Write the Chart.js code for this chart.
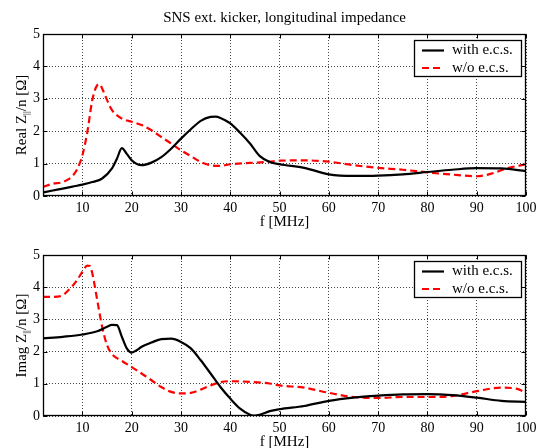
<!DOCTYPE html>
<html><head><meta charset="utf-8">
<script src="https://cdn.jsdelivr.net/npm/chart.js@4"></script>
<style>
html,body{margin:0;padding:0;background:#fff;overflow:hidden;width:542px;height:448px}
canvas{position:absolute;left:0}
#c1{top:0}
#c2{top:232px}
</style></head><body>
<canvas id="c1" width="542" height="232"></canvas>
<canvas id="c2" width="542" height="216"></canvas>
<script>
// ---------- data ----------
const chartTitle = 'SNS ext. kicker, longitudinal impedance';
const seriesLabels = ['with e.c.s.', 'w/o e.c.s.'];
const xAxisLabel = 'f [MHz]';
const yLabelTop = ['Real Z', '||', '/n [\u03A9]'];
const yLabelBottom = ['Imag Z', '||', '/n [\u03A9]'];
const xTickValues = [10, 20, 30, 40, 50, 60, 70, 80, 90, 100];
const yTickValues = [0, 1, 2, 3, 4, 5];

// Real part, with e.c.s.
const realWithF = [2, 4, 6, 8, 10, 12, 14, 16, 17, 18, 19, 20, 22, 24, 26, 28, 30, 32, 34, 36, 37, 38, 40, 42, 44, 46, 48, 50, 55, 60, 65, 70, 75, 80, 85, 90, 95, 100];
const realWithV = [0.11, 0.17, 0.23, 0.29, 0.35, 0.43, 0.54, 0.85, 1.15, 1.48, 1.3, 1.1, 0.95, 1.03, 1.2, 1.46, 1.77, 2.06, 2.32, 2.44, 2.45, 2.41, 2.24, 1.95, 1.62, 1.23, 1.05, 0.98, 0.87, 0.67, 0.62, 0.63, 0.67, 0.74, 0.81, 0.86, 0.85, 0.77];
// Real part, without e.c.s.
const realWoF = [2, 4, 6, 8, 9, 10, 11, 12, 13, 13.5, 14, 15, 16, 18, 20, 22, 24, 26, 28, 30, 32, 34, 36, 38, 40, 44, 48, 50, 55, 60, 65, 70, 75, 80, 85, 90, 93, 96, 100];
const realWoV = [0.28, 0.38, 0.43, 0.62, 0.85, 1.26, 1.98, 2.96, 3.42, 3.45, 3.32, 2.96, 2.65, 2.39, 2.29, 2.19, 2.03, 1.82, 1.62, 1.41, 1.23, 1.05, 0.95, 0.93, 0.98, 1.02, 1.06, 1.09, 1.1, 1.06, 0.95, 0.87, 0.81, 0.73, 0.66, 0.61, 0.69, 0.85, 0.98];
// Imaginary part, with e.c.s.
const imagWithF = [2, 6, 10, 13, 15, 16, 17, 18, 19, 20, 21, 22, 24, 26, 28, 30, 32, 34, 36, 38, 40, 42, 44, 45, 46, 48, 50, 55, 60, 65, 70, 75, 80, 85, 90, 95, 100];
const imagWithV = [2.41, 2.46, 2.53, 2.63, 2.77, 2.83, 2.82, 2.46, 2.1, 1.97, 2.04, 2.15, 2.28, 2.39, 2.4, 2.3, 2.1, 1.73, 1.32, 0.9, 0.54, 0.23, 0.04, 0.01, 0.04, 0.15, 0.21, 0.31, 0.47, 0.57, 0.63, 0.67, 0.68, 0.65, 0.57, 0.47, 0.44];
// Imaginary part, without e.c.s.
const imagWoF = [2, 4, 6, 7, 8, 9, 10, 11, 11.5, 12, 13, 14, 15, 16, 18, 20, 22, 24, 26, 28, 30, 32, 34, 36, 38, 40, 44, 48, 50, 55, 60, 65, 70, 75, 80, 85, 90, 95, 98, 100];
const imagWoV = [3.7, 3.7, 3.75, 3.88, 4.04, 4.24, 4.48, 4.67, 4.66, 4.43, 3.6, 2.77, 2.2, 1.92, 1.71, 1.52, 1.32, 1.11, 0.9, 0.75, 0.7, 0.72, 0.82, 0.95, 1.05, 1.08, 1.06, 1.01, 0.95, 0.88, 0.72, 0.59, 0.56, 0.59, 0.59, 0.62, 0.77, 0.88, 0.85, 0.73];

// ---------- helpers ----------
const SERIF = '"Liberation Serif", "DejaVu Serif", serif';
const pts = (f, v) => f.map((x, i) => ({x, y: v[i]}));

const framePlugin = {
  id: 'frame',
  afterDraw(chart) {
    const {ctx, chartArea: a, scales: {x, y}} = chart;
    const L = Math.round(a.left) + 0.5, R = Math.round(a.right) - 0.5;
    const T = Math.round(a.top) + 0.5, B = Math.round(a.bottom) - 0.5;
    ctx.save();
    ctx.strokeStyle = '#000';
    ctx.lineWidth = 1;
    ctx.beginPath();
    const tl = 4;
    x.ticks.forEach(t => {
      const px = Math.round(x.getPixelForValue(t.value)) + 0.5;
      ctx.moveTo(px, B); ctx.lineTo(px, B - tl);
      ctx.moveTo(px, T); ctx.lineTo(px, T + tl);
    });
    y.ticks.forEach(t => {
      const py = Math.round(y.getPixelForValue(t.value)) + 0.5;
      ctx.moveTo(L, py); ctx.lineTo(L + tl, py);
      ctx.moveTo(R, py); ctx.lineTo(R - tl, py);
    });
    ctx.stroke();
    ctx.lineWidth = 1.3;
    ctx.strokeRect(L, T, R - L, B - T);
    ctx.restore();
  }
};

const labelsPlugin = {
  id: 'labels',
  afterDraw(chart, args, opts) {
    const {ctx, chartArea: a} = chart;
    ctx.save();
    ctx.fillStyle = '#000';
    const cx = (a.left + a.right) / 2;
    if (opts.title) {
      ctx.font = '15px ' + SERIF;
      ctx.textAlign = 'center';
      ctx.textBaseline = 'middle';
      ctx.fillText(opts.title, cx, a.top - 16);
    }
    // x label
    ctx.font = '15px ' + SERIF;
    ctx.textAlign = 'center';
    ctx.textBaseline = 'top';
    ctx.fillText(opts.xLabel, cx, a.bottom + 19);
    // y label with subscript
    const parts = opts.yLabel;
    const big = '15px ' + SERIF, small = '9px ' + SERIF;
    ctx.font = big; const w0 = ctx.measureText(parts[0]).width;
    ctx.font = small; const w1 = ctx.measureText(parts[1]).width;
    ctx.font = big; const w2 = ctx.measureText(parts[2]).width;
    const total = w0 + w1 + w2;
    ctx.translate(22, (a.top + a.bottom) / 2);
    ctx.rotate(-Math.PI / 2);
    ctx.textAlign = 'left';
    ctx.textBaseline = 'middle';
    let sx = -total / 2;
    ctx.font = big; ctx.fillText(parts[0], sx, 0); sx += w0;
    ctx.font = small; ctx.fillText(parts[1], sx, 5); sx += w1;
    ctx.font = big; ctx.fillText(parts[2], sx, 0);
    ctx.restore();
  }
};

const legendPlugin = {
  id: 'boxLegend',
  afterDraw(chart) {
    const {ctx, chartArea: a} = chart;
    const ds = chart.data.datasets;
    const bw = 107, bh = 36;
    const bx = Math.round(a.right) - 5 - bw, by = Math.round(a.top) + 6;
    ctx.save();
    ctx.fillStyle = '#fff';
    ctx.fillRect(bx, by, bw, bh);
    ctx.strokeStyle = '#000';
    ctx.lineWidth = 1.3;
    ctx.strokeRect(bx + 0.5, by + 0.5, bw, bh);
    ctx.font = '15px ' + SERIF;
    ctx.textBaseline = 'middle';
    ctx.textAlign = 'left';
    ds.forEach((d, i) => {
      const yy = by + 10.5 + i * 17.5;
      ctx.strokeStyle = d.borderColor;
      ctx.lineWidth = d.borderWidth;
      ctx.setLineDash(d.borderDash || []);
      ctx.beginPath();
      ctx.moveTo(bx + 8, yy); ctx.lineTo(bx + 30, yy);
      ctx.stroke();
      ctx.setLineDash([]);
      ctx.fillStyle = '#000';
      ctx.fillText(d.label, bx + 38, yy);
    });
    ctx.restore();
  }
};

function makeChart(id, withPts, woPts, yLabel, title, padTop, xHeight) {
  return new Chart(document.getElementById(id), {
    type: 'line',
    data: {
      datasets: [
        {label: seriesLabels[0], data: withPts, borderColor: '#000', borderWidth: 2.2,
         pointRadius: 0, cubicInterpolationMode: 'monotone', fill: false},
        {label: seriesLabels[1], data: woPts, borderColor: '#ff0000', borderWidth: 2.2,
         borderDash: [7, 4], pointRadius: 0, cubicInterpolationMode: 'monotone', fill: false}
      ]
    },
    options: {
      responsive: false,
      animation: false,
      layout: {padding: {left: 0, right: 16, top: padTop, bottom: 0}},
      plugins: {
        legend: {display: false},
        tooltip: {enabled: false},
        labels: {title: title, xLabel: xAxisLabel, yLabel: yLabel}
      },
      scales: {
        x: {
          type: 'linear', min: 2, max: 100,
          afterBuildTicks: s => { s.ticks = xTickValues.map(v => ({value: v})); },
          afterFit: s => { s.height = xHeight; },
          border: {display: false, dash: [1, 2]},
          grid: {color: '#444', lineWidth: 1, drawTicks: false},
          ticks: {color: '#000', font: {family: SERIF, size: 14}, padding: 4, maxRotation: 0, autoSkip: false}
        },
        y: {
          type: 'linear', min: 0, max: 5,
          afterBuildTicks: s => { s.ticks = yTickValues.map(v => ({value: v})); },
          afterFit: s => { s.width = 43; },
          border: {display: false, dash: [1, 2]},
          grid: {color: '#444', lineWidth: 1, drawTicks: false},
          ticks: {color: '#000', font: {family: SERIF, size: 14}, padding: 3}
        }
      }
    },
    plugins: [framePlugin, labelsPlugin, legendPlugin]
  });
}

makeChart('c1', pts(realWithF, realWithV), pts(realWoF, realWoV), yLabelTop, chartTitle, 34, 36);
makeChart('c2', pts(imagWithF, imagWithV), pts(imagWoF, imagWoV), yLabelBottom, null, 23, 32);
</script>
</body></html>
